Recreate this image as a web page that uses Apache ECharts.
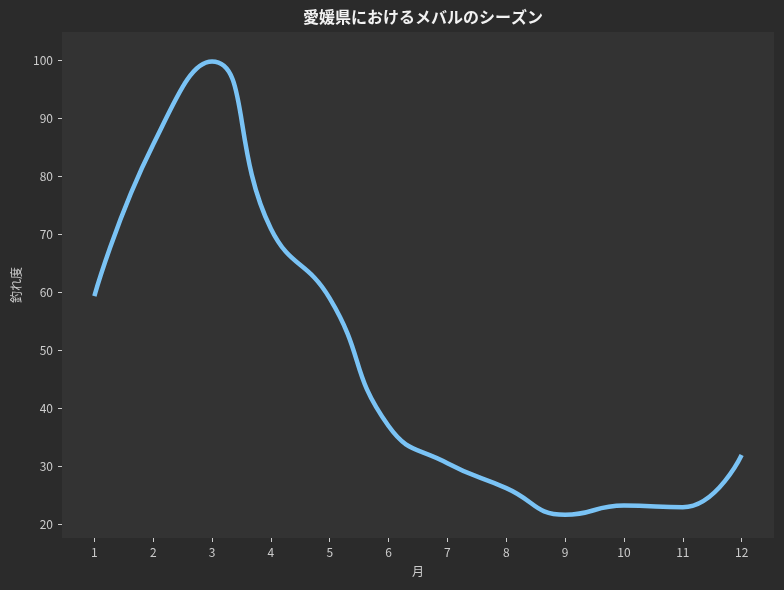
<!DOCTYPE html>
<html>
<head>
<meta charset="utf-8">
<script src="https://cdn.jsdelivr.net/npm/echarts@6/dist/echarts.min.js"></script>
<style>
  html, body { margin: 0; padding: 0; background: #2b2b2b; }
  #main { width: 784px; height: 590px; }
</style>
</head>
<body>
<div id="main"></div>
<script>
// monthly values
var months = [1, 2, 3, 4, 5, 6, 7, 8, 9, 10, 11, 12];
var catchRate = [59.4, 85.5, 99.8, 71, 59, 37, 30.6, 26.3, 21.7, 23.3, 23, 32];
var yTicks = [20, 30, 40, 50, 60, 70, 80, 90, 100];

var font = '"Noto Sans CJK JP", "Noto Sans", sans-serif';
var chart = echarts.init(document.getElementById('main'), null, { renderer: 'canvas' });

var points = months.map(function (m, i) { return [m, catchRate[i]]; });

var option = {
  backgroundColor: '#2b2b2b',
  animation: false,
  title: {
    text: '愛媛県におけるメバルのシーズン',
    left: 418,
    textAlign: 'center',
    top: 4,
    textStyle: { color: '#f2f2f2', fontSize: 16, fontWeight: 'bold', fontFamily: font }
  },
  grid: {
    left: 62, right: 10, top: 32, bottom: 52,
    show: true, backgroundColor: '#333333', borderWidth: 0
  },
  xAxis: {
    type: 'value',
    min: 0.45, max: 12.55,
    name: '月',
    nameLocation: 'middle',
    nameGap: 27,
    nameTextStyle: { color: '#cccccc', fontSize: 12, fontFamily: font },
    axisLine: { show: false },
    axisTick: { show: true, length: 4, lineStyle: { color: '#cccccc' }, customValues: months },
    axisLabel: { color: '#cccccc', fontSize: 12, fontFamily: font, margin: 8, customValues: months },
    splitLine: { show: false }
  },
  yAxis: {
    type: 'value',
    min: 17.7, max: 104.9,
    name: '釣れ度',
    nameLocation: 'middle',
    nameGap: 38,
    nameTextStyle: { color: '#cccccc', fontSize: 12, fontFamily: font },
    axisLine: { show: false },
    axisTick: { show: true, length: 4, lineStyle: { color: '#cccccc' }, customValues: yTicks },
    axisLabel: { color: '#cccccc', fontSize: 12, fontFamily: font, margin: 9, customValues: yTicks },
    splitLine: { show: false }
  },
  series: [{
    type: 'line',
    data: points,
    smooth: 0.5,
    showSymbol: false,
    lineStyle: { color: '#7ac3f5', width: 4.5 }
  }]
};
chart.setOption(option);
</script>
</body>
</html>
